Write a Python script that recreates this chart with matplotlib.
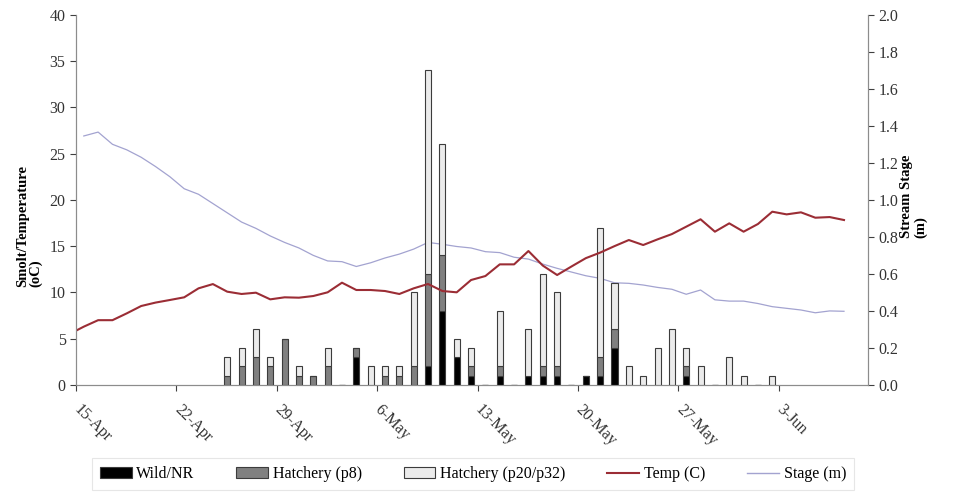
import pandas as pd
import numpy as np
import matplotlib
matplotlib.use("Agg")
import matplotlib.pyplot as plt
from matplotlib.patches import Patch
from matplotlib.lines import Line2D

plt.rcParams["font.family"] = ["Liberation Serif", "DejaVu Serif"]
plt.rcParams["font.size"] = 11

# Daily smolt counts, 25-Apr to 2-Jun
count_days = pd.date_range("2010-04-25", "2010-06-02", freq="D")
wild = [0, 0, 0, 0, 0, 0, 0, 0, 0, 3, 0, 0, 0, 0, 2, 8, 3, 1, 0, 1,
        0, 1, 1, 1, 0, 1, 1, 4, 0, 0, 0, 0, 1, 0, 0, 0, 0, 0, 0]
hatch_p8 = [1, 2, 3, 2, 5, 1, 1, 2, 0, 1, 0, 1, 1, 2, 10, 6, 0, 1, 0, 1,
            0, 0, 1, 1, 0, 0, 2, 2, 0, 0, 0, 0, 1, 0, 0, 0, 0, 0, 0]
hatch_p20 = [2, 2, 3, 1, 0, 1, 0, 2, 0, 0, 2, 1, 1, 8, 22, 12, 2, 2, 0, 6,
             0, 5, 10, 8, 0, 0, 14, 5, 2, 1, 4, 6, 2, 2, 0, 3, 1, 0, 1]

# Daily water temperature (C), 14-Apr to 7-Jun
temp_days = pd.date_range("2010-04-14", "2010-06-07", freq="D")
temp = [5.5, 6.3, 7.0, 7.0, 7.74, 8.53, 8.9, 9.18, 9.47, 10.44, 10.9,
        10.08, 9.83, 9.97, 9.25, 9.47, 9.43, 9.61, 10.01, 11.05, 10.26,
        10.26, 10.15, 9.83, 10.44, 10.91, 10.15, 10.01, 11.34, 11.77, 13.03,
        13.03, 14.47, 12.9, 11.88, 12.8, 13.7, 14.3, 15.0, 15.66, 15.12,
        15.73, 16.3, 17.1, 17.9, 16.56, 17.46, 16.56, 17.39, 18.72, 18.43,
        18.65, 18.07, 18.14, 17.82]

# Daily stream stage (m), 15-Apr to 7-Jun
stage_days = pd.date_range("2010-04-15", "2010-06-07", freq="D")
stage = [1.345, 1.366, 1.30, 1.27, 1.23, 1.18, 1.125, 1.06, 1.03, 0.98,
         0.93, 0.88, 0.846, 0.805, 0.77, 0.74, 0.70, 0.67, 0.666, 0.64,
         0.66, 0.686, 0.707, 0.734, 0.77, 0.76, 0.748, 0.74, 0.72, 0.715,
         0.69, 0.68, 0.653, 0.63, 0.61, 0.59, 0.576, 0.552, 0.549, 0.54,
         0.527, 0.517, 0.49, 0.513, 0.46, 0.453, 0.453, 0.44, 0.423, 0.414,
         0.405, 0.39, 0.40, 0.398]

# each day's value sits a little past the day's tick
shift = pd.Timedelta(hours=13)

fig = plt.figure(figsize=(9.61, 4.97), dpi=100)
ax = fig.add_axes([0.0791, 0.2254, 0.8239, 0.7450])
ax2 = ax.twinx()
ax.set_zorder(2)
ax.patch.set_visible(False)

wild = np.array(wild)
hatch_p8 = np.array(hatch_p8)
hatch_p20 = np.array(hatch_p20)
bx = count_days + shift
bw = 0.42
edge = "#3c3c3c"
ax.bar(bx, wild, width=bw, color="black", edgecolor=edge, linewidth=0.8)
ax.bar(bx, hatch_p8, width=bw, bottom=wild, color="#808080", edgecolor=edge, linewidth=0.8)
ax.bar(bx, hatch_p20, width=bw, bottom=wild + hatch_p8, color="#ebebeb", edgecolor=edge, linewidth=0.8)

ax.plot(temp_days + shift, temp, color="#9b2d35", linewidth=1.5)
ax2.plot(stage_days + shift, stage, color="#a3a3d0", linewidth=0.9)

start = pd.Timestamp("2010-04-15")
ax.set_xlim(start, start + pd.Timedelta(days=55.2))
ax.set_ylim(0, 40)
ax.set_yticks(range(0, 41, 5))
ax2.set_ylim(0, 2.0)
ax2.set_yticks(np.arange(0, 2.01, 0.2))
ax2.yaxis.set_major_formatter(matplotlib.ticker.FormatStrFormatter("%.1f"))

ticks = pd.date_range(start, periods=8, freq="7D")
ax.set_xticks(ticks)
ax.set_xticklabels([d.strftime("%-d-%b") for d in ticks],
                   rotation=-45, ha="left", va="center", rotation_mode="anchor")

for a in (ax, ax2):
    a.spines["top"].set_visible(False)
    for s in ("left", "right", "bottom"):
        a.spines[s].set_color("#8c8c8c")
    a.tick_params(colors="#404040", labelcolor="#333333", labelsize=11.5, length=4)
ax.tick_params(axis="x", pad=12)

ax.set_ylabel("Smolt/Temperature\n(oC)", fontweight="bold", fontsize=10.5,
              multialignment="left", linespacing=1.05)
ax.yaxis.set_label_coords(-0.042, 0.43)
ax2.set_ylabel("Stream Stage\n(m)", fontweight="bold", fontsize=10.5,
               multialignment="left", linespacing=1.05)
ax2.yaxis.set_label_coords(1.041, 0.51)

handles = [
    Patch(facecolor="black", edgecolor=edge, linewidth=0.8),
    Patch(facecolor="#808080", edgecolor=edge, linewidth=0.8),
    Patch(facecolor="#ebebeb", edgecolor=edge, linewidth=0.8),
    Line2D([], [], color="#9b2d35", linewidth=1.5),
    Line2D([], [], color="#a3a3d0", linewidth=1.0),
]
labels = ["Wild/NR", "Hatchery (p8)", "Hatchery (p20/p32)", "Temp (C)", "Stage (m)"]
leg = fig.legend(handles, labels, loc="center", bbox_to_anchor=(0.492, 0.046),
                 ncol=5, frameon=True, fancybox=False, fontsize=11.5,
                 handlelength=2.0, handletextpad=0.3, columnspacing=2.6,
                 borderpad=0.5)
leg.get_frame().set_edgecolor("#e0e0e0")
leg.get_frame().set_linewidth(0.8)

fig.savefig("out.png", dpi=100)
